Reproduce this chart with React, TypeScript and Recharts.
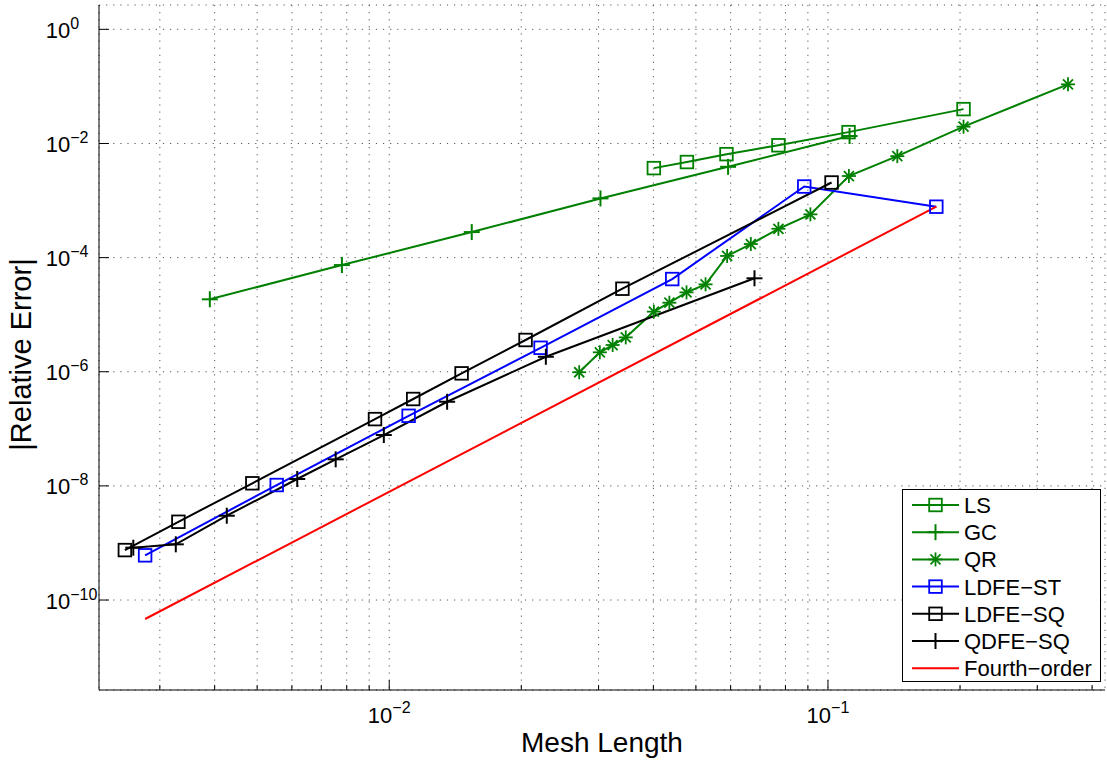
import React from "react";
import { LineChart, Line, XAxis, YAxis, CartesianGrid, Legend } from "recharts";

const FONT = "'Liberation Sans', Arial, Helvetica, sans-serif";
const GREEN = "#008000";
const BLUE = "#0000ff";
const BLACK = "#000000";
const RED = "#ff0000";

// axis ticks (log scales)
const xTicks = [
  0.003, 0.004, 0.005, 0.006, 0.007, 0.008, 0.009, 0.01,
  0.02, 0.03, 0.04, 0.05, 0.06, 0.07, 0.08, 0.09, 0.1,
  0.2, 0.3, 0.4,
];
const yTicks = [1, 1e-2, 1e-4, 1e-6, 1e-8, 1e-10];
const xDomain = [0.00218, 0.428];
const yDomain = [2.65e-12, 2.67];

// series values
const lsX = [0.0401, 0.0477, 0.0587, 0.0771, 0.1114, 0.2037];
const lsY = [3.7e-3, 4.73e-3, 6.5e-3, 9.3e-3, 1.58e-2, 4.0e-2];

const gcX = [0.0039, 0.0078, 0.01542, 0.0303, 0.0592, 0.112];
const gcY = [1.86e-5, 7.4e-5, 2.8e-4, 1.09e-3, 3.9e-3, 1.35e-2];

const qrX = [
  0.0271, 0.0302, 0.0323, 0.0346, 0.0401, 0.0435, 0.0476, 0.0526,
  0.0589, 0.0667, 0.0771, 0.0912, 0.1116, 0.1439, 0.2037, 0.3525,
];
const qrY = [
  9.8e-7, 2.19e-6, 2.94e-6, 4.0e-6, 1.13e-5, 1.62e-5, 2.46e-5, 3.4e-5,
  1.07e-4, 1.73e-4, 3.2e-4, 5.73e-4, 2.69e-3, 6.0e-3, 1.97e-2, 1.087e-1,
];

const ldfeStX = [0.002777, 0.00554, 0.01107, 0.02213, 0.04416, 0.0883, 0.1766];
const ldfeStY = [6.07e-10, 1.035e-8, 1.69e-7, 2.63e-6, 4.21e-5, 1.76e-3, 7.8e-4];

const ldfeSqX = [0.002497, 0.003307, 0.004875, 0.00928, 0.01134, 0.01462, 0.02045, 0.034, 0.1019];
const ldfeSqY = [7.5e-10, 2.35e-9, 1.11e-8, 1.48e-7, 3.33e-7, 9.37e-7, 3.6e-6, 2.85e-5, 2.07e-3];

const qdfeSqX = [0.00261, 0.003262, 0.004263, 0.00617, 0.00755, 0.00972, 0.01355, 0.02275, 0.068];
const qdfeSqY = [8.26e-10, 9.46e-10, 3.0e-9, 1.32e-8, 2.92e-8, 7.78e-8, 2.98e-7, 1.83e-6, 4.34e-5];

const fourthX = [0.002777, 0.1766];
const fourthY = [4.65e-11, 7.8e-4];

type MarkerKind = "square" | "plus" | "star" | "none";

const toPoints = (xs: number[], ys: number[]) => xs.map((x, i) => ({ x, y: ys[i] }));

const series: { name: string; color: string; marker: MarkerKind; data: { x: number; y: number }[] }[] = [
  { name: "LS", color: GREEN, marker: "square", data: toPoints(lsX, lsY) },
  { name: "GC", color: GREEN, marker: "plus", data: toPoints(gcX, gcY) },
  { name: "QR", color: GREEN, marker: "star", data: toPoints(qrX, qrY) },
  { name: "LDFE\u2212ST", color: BLUE, marker: "square", data: toPoints(ldfeStX, ldfeStY) },
  { name: "LDFE\u2212SQ", color: BLACK, marker: "square", data: toPoints(ldfeSqX, ldfeSqY) },
  { name: "QDFE\u2212SQ", color: BLACK, marker: "plus", data: toPoints(qdfeSqX, qdfeSqY) },
  { name: "Fourth\u2212order", color: RED, marker: "none", data: toPoints(fourthX, fourthY) },
];

const Marker = ({ kind, cx, cy, color }: { kind: MarkerKind; cx: number; cy: number; color: string }) => {
  if (kind === "square") {
    return <rect x={cx - 6.3} y={cy - 6.3} width={12.6} height={12.6} fill="none" stroke={color} strokeWidth={1.8} />;
  }
  if (kind === "plus") {
    return (
      <g stroke={color} strokeWidth={2}>
        <line x1={cx - 8} y1={cy} x2={cx + 8} y2={cy} />
        <line x1={cx} y1={cy - 8} x2={cx} y2={cy + 8} />
      </g>
    );
  }
  if (kind === "star") {
    const d = 5;
    return (
      <g stroke={color} strokeWidth={1.8}>
        <line x1={cx - 7} y1={cy} x2={cx + 7} y2={cy} />
        <line x1={cx} y1={cy - 7} x2={cx} y2={cy + 7} />
        <line x1={cx - d} y1={cy - d} x2={cx + d} y2={cy + d} />
        <line x1={cx - d} y1={cy + d} x2={cx + d} y2={cy - d} />
      </g>
    );
  }
  return null;
};

const isDecade = (v: number) => Math.abs(Math.log10(v) - Math.round(Math.log10(v))) < 1e-6;
const expText = (v: number) => {
  const e = Math.round(Math.log10(v));
  return e < 0 ? "\u2212" + Math.abs(e) : String(e);
};

const BottomTick = (props: any) => {
  const { x, y, payload } = props;
  const major = isDecade(payload.value);
  return (
    <g>
      <line x1={x} y1={y} x2={x} y2={y - (major ? 10 : 5)} stroke="#000" />
      {major && (
        <text x={x} y={y + 33} textAnchor="middle" fontFamily={FONT} fontSize={22} fill="#000">
          10
          <tspan dy={-10} fontSize={16}>
            {expText(payload.value)}
          </tspan>
        </text>
      )}
    </g>
  );
};

const TopTick = (props: any) => {
  const { x, y, payload } = props;
  const major = isDecade(payload.value);
  return <line x1={x} y1={y} x2={x} y2={y + (major ? 10 : 5)} stroke="#000" />;
};

const LeftTick = (props: any) => {
  const { x, y, payload } = props;
  return (
    <g>
      <line x1={x} y1={y} x2={x + 10} y2={y} stroke="#000" />
      <text x={x - 53.3} y={y + 8.5} textAnchor="start" fontFamily={FONT} fontSize={22} fill="#000">
        10
        <tspan dy={-9} fontSize={16}>
          {expText(payload.value)}
        </tspan>
      </text>
    </g>
  );
};

const RightTick = (props: any) => {
  const { x, y } = props;
  return <line x1={x - 10} y1={y} x2={x} y2={y} stroke="#000" />;
};

const YLabel = (props: any) => {
  const vb = props.viewBox || { x: 0, y: 5, width: 99, height: 685 };
  const lx = vb.x + 31;
  const ly = vb.y + vb.height / 2 + 7;
  return (
    <text
      x={lx}
      y={ly}
      textAnchor="middle"
      transform={`rotate(-90, ${lx}, ${ly})`}
      fontFamily={FONT}
      fontSize={29}
      fill="#000"
    >
      |Relative Error|
    </text>
  );
};

const LegendBox = () => (
  <div
    style={{
      width: 199,
      height: 193,
      boxSizing: "border-box",
      border: "1px solid #000",
      background: "#fff",
    }}
  >
    <svg width={197} height={191} style={{ display: "block" }}>
      {series.map((s, i) => {
        const cy = 15 + i * 27.2;
        return (
          <g key={s.name}>
            <line x1={9} y1={cy} x2={56} y2={cy} stroke={s.color} strokeWidth={2} />
            <Marker kind={s.marker} cx={32.5} cy={cy} color={s.color} />
            <text x={61} y={cy + 8} fontFamily={FONT} fontSize={22} fill="#000">
              {s.name}
            </text>
          </g>
        );
      })}
    </svg>
  </div>
);

export default function App() {
  return (
    <div style={{ position: "absolute", left: 0, top: 0, background: "#fff" }}>
      <LineChart width={1107} height={761} margin={{ top: 5, right: 2, left: 0, bottom: 0 }}>
        <CartesianGrid
          xAxisId="x"
          yAxisId="y"
          stroke="#555"
          strokeDasharray="1.2 5.9"
          strokeWidth={1}
        />
        <XAxis
          xAxisId="x"
          dataKey="x"
          type="number"
          scale="log"
          domain={xDomain}
          allowDataOverflow
          ticks={xTicks}
          interval={0}
          height={71}
          tickSize={0}
          tickMargin={0}
          tickLine={false}
          tick={<BottomTick />}
          axisLine={{ stroke: "#000", strokeWidth: 1 }}
          label={{ value: "Mesh Length", position: "insideBottom", offset: 9, fontSize: 28, fontFamily: FONT, fill: "#000" }}
        />
        <XAxis
          xAxisId="top"
          orientation="top"
          dataKey="x"
          type="number"
          scale="log"
          domain={xDomain}
          allowDataOverflow
          ticks={xTicks}
          interval={0}
          height={0}
          tickSize={0}
          tickMargin={0}
          tickLine={false}
          tick={<TopTick />}
          axisLine={{ stroke: "#000", strokeWidth: 1 }}
        />
        <YAxis
          yAxisId="y"
          dataKey="y"
          type="number"
          scale="log"
          domain={yDomain}
          allowDataOverflow
          ticks={yTicks}
          interval={0}
          width={99}
          tickSize={0}
          tickMargin={0}
          tickLine={false}
          tick={<LeftTick />}
          axisLine={{ stroke: "#000", strokeWidth: 1 }}
          label={<YLabel />}
        />
        <YAxis
          yAxisId="right"
          orientation="right"
          dataKey="y"
          type="number"
          scale="log"
          domain={yDomain}
          allowDataOverflow
          ticks={yTicks}
          interval={0}
          width={0}
          tickSize={0}
          tickMargin={0}
          tickLine={false}
          tick={<RightTick />}
          axisLine={{ stroke: "#000", strokeWidth: 1 }}
        />
        {series.map((s) => (
          <Line
            key={s.name}
            xAxisId="x"
            yAxisId="y"
            data={s.data}
            dataKey="y"
            name={s.name}
            type="linear"
            stroke={s.color}
            strokeWidth={2}
            isAnimationActive={false}
            activeDot={false}
            dot={
              s.marker === "none"
                ? false
                : (p: any) => (
                    <Marker key={`${s.name}-${p.index}`} kind={s.marker} cx={p.cx} cy={p.cy} color={s.color} />
                  )
            }
          />
        ))}
        <Legend
          layout="vertical"
          align="center"
          verticalAlign="middle"
          wrapperStyle={{ left: 902, top: 489, width: 199, height: 193 }}
          content={<LegendBox />}
        />
      </LineChart>
    </div>
  );
}
